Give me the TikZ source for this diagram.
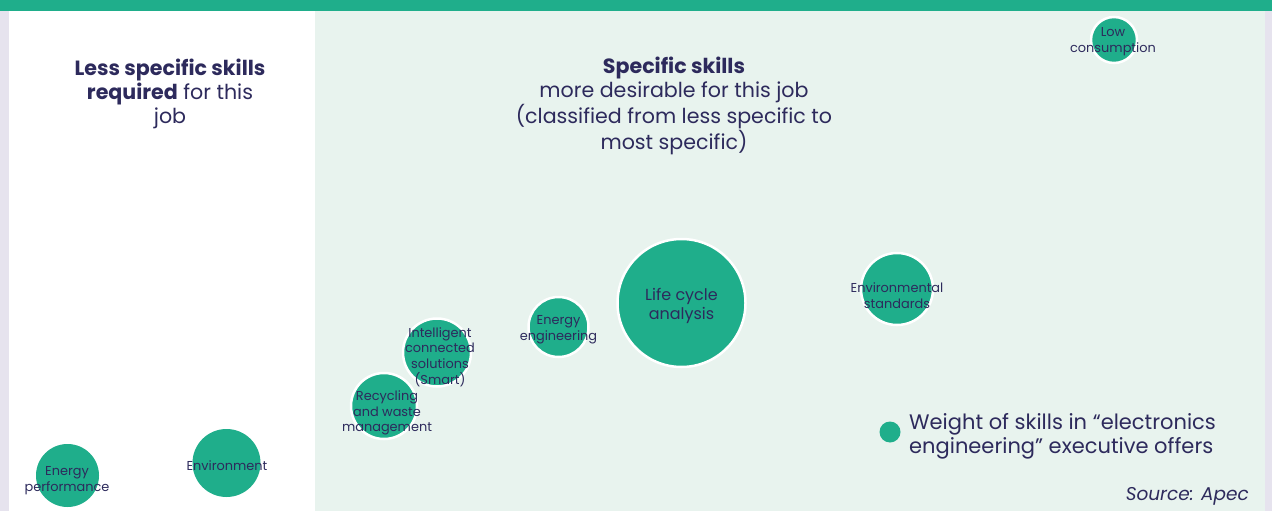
\documentclass[tikz,border=0pt]{standalone}
\usepackage{fontspec}
\setmainfont{Poppins}
\definecolor{bubble}{HTML}{1FAE8B}
\definecolor{paleg}{HTML}{E8F3EE}
\definecolor{lav}{HTML}{E6E3EE}
\definecolor{ink}{HTML}{2D2A5C}
\begin{document}
\begin{tikzpicture}[x=1pt,y=-1pt,
  bub/.style={circle,fill=bubble,draw=white,line width=2.5pt,inner sep=0pt,minimum size=#1},
  lbl/.style={text=ink,align=center,font=\fontsize{12.9}{15.8}\selectfont,inner sep=0pt},
  head/.style={text=ink,align=center,font=\fontsize{20.6}{24}\selectfont,inner sep=0pt}]
\useasboundingbox (0,0) rectangle (1272,511);
% backgrounds
\fill[lav] (0,0) rectangle (1272,511);
\fill[white] (9,11) rectangle (315,511);
\fill[paleg] (315,11) rectangle (1265,511);
\fill[bubble] (0,0) rectangle (1272,11);
% headings
\node[head] (hl) at (170,94) {\textbf{Less specific skills}\\\textbf{required} for this\\job};
\node[head] (hr) at (674,106) {\textbf{Specific skills}\\more desirable for this job\\(classified from less specific to\\most specific)};
% bubbles
\node[bub=46pt] (lc) at (1114,40) {};
\node[bub=128pt] (lca) at (681.5,303) {};
\node[bub=72pt] (es) at (897,289) {};
\node[bub=60pt] (ee) at (558.5,327) {};
\node[bub=68pt] (ics) at (437,352.5) {};
\node[bub=66pt] (rw) at (384,406) {};
\node[bub=63pt,draw=none] (ep) at (67.5,475.5) {};
\node[bub=68pt,draw=none] (env) at (226.5,463) {};
% labels
\node[lbl] (t-lc) at (1113,42) {Low\\consumption};
\node[lbl,font=\fontsize{16}{19}\selectfont] (t-lca) at (681.5,306) {Life cycle\\analysis};
\node[lbl] (t-es) at (897,296) {Environmental\\standards};
\node[lbl] (t-ee) at (558.5,330) {Energy\\engineering};
\node[lbl] (t-ics) at (440,357) {Intelligent\\connected\\solutions\\(Smart)};
\node[lbl] (t-rw) at (387,413) {Recycling\\and waste\\management};
\node[lbl] (t-ep) at (67,481) {Energy\\performance};
\node[lbl] (t-env) at (227,466) {Environment};
% legend
\node[circle,fill=bubble,inner sep=0pt,minimum size=21pt] (leg) at (890,432) {};
\node[text=ink,align=left,anchor=west,font=\fontsize{21}{24}\selectfont,inner sep=0pt] (legt) at (909,436) {Weight of skills in “electronics\\engineering” executive offers};
\node[text=ink,anchor=east,font=\fontsize{18.5}{20}\itshape,inner sep=0pt] (src) at (1249,496) {Source: Apec};
\end{tikzpicture}
\end{document}
